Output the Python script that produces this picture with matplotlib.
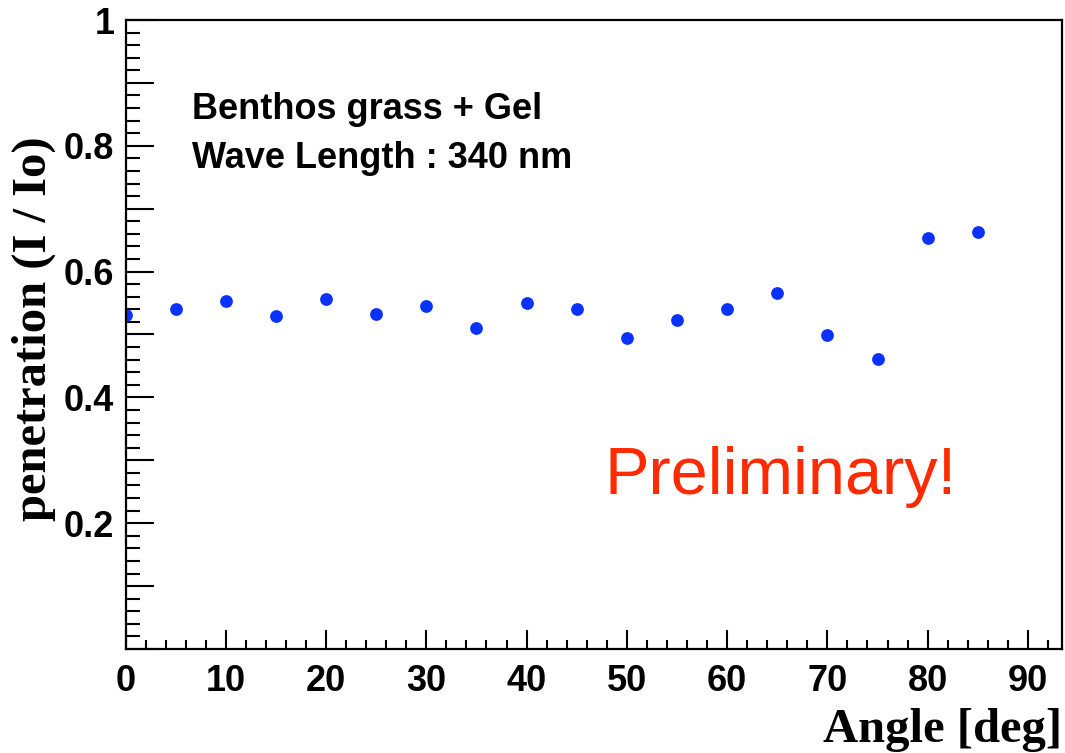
import numpy as np
import matplotlib
matplotlib.use('Agg')
import matplotlib.pyplot as plt
from matplotlib.ticker import MultipleLocator, FuncFormatter

# measured penetration vs incident angle
angles = [0, 5, 10, 15, 20, 25, 30, 35, 40, 45, 50, 55, 60, 65, 70, 75, 80, 85]
penetration = [0.531, 0.541, 0.553, 0.530, 0.556, 0.532, 0.545, 0.511, 0.550,
               0.540, 0.495, 0.523, 0.540, 0.566, 0.500, 0.461, 0.654, 0.663]

sans = 'Liberation Sans'
serif = 'Liberation Serif'

fig = plt.figure(figsize=(10.65, 7.53), dpi=100)
ax = fig.add_axes([125.5 / 1065, 104 / 753, (1062 - 125.5) / 1065, (649 - 20) / 753])

ax.plot(angles, penetration, 'o', color='#0a32ff', markersize=9.2, markeredgewidth=0)

ax.set_xlim(0, 93.4)
ax.set_ylim(0, 1)

# ROOT-like ticks: inward, only on left and bottom
ax.xaxis.set_major_locator(MultipleLocator(10))
ax.xaxis.set_minor_locator(MultipleLocator(2))
ax.yaxis.set_major_locator(MultipleLocator(0.1))
ax.yaxis.set_minor_locator(MultipleLocator(0.02))


def ylab(v, pos):
    k = int(round(v * 10))
    if k == 0 or k % 2:
        return ''
    if k == 10:
        return '1'
    return '%.1f' % v


ax.yaxis.set_major_formatter(FuncFormatter(ylab))
ax.tick_params(axis='x', which='major', direction='in', length=13.5, width=1.5, pad=11)
ax.tick_params(axis='x', which='minor', direction='in', length=6.5, width=1.5)
ax.tick_params(axis='y', which='major', direction='in', length=20, width=1.5, pad=8)
ax.tick_params(axis='y', which='minor', direction='in', length=10, width=1.5)
ax.tick_params(top=False, right=False, which='both')
for lab in ax.get_xticklabels() + ax.get_yticklabels():
    lab.set_fontfamily(sans)
    lab.set_fontweight('bold')
    lab.set_fontsize(26)
for sp in ax.spines.values():
    sp.set_linewidth(1.6)

ax.text(6.63, 0.8425, 'Benthos grass + Gel', fontfamily=sans, fontweight='bold',
        fontsize=26, va='baseline', ha='left')
ax.text(6.63, 0.7645, 'Wave Length : 340 nm', fontfamily=sans, fontweight='bold',
        fontsize=26, va='baseline', ha='left')
ax.text(47.8, 0.246, 'Preliminary!', fontfamily=sans, fontsize=48,
        color='#ff2a00', va='baseline', ha='left')

fig.text(1062 / 1065, (753 - 742) / 753, 'Angle [deg]', fontfamily=serif,
         fontweight='bold', fontsize=35, ha='right', va='baseline')
fig.text(34 / 1065, 1 - 329 / 753, 'penetration (I / Io)', fontfamily=serif,
         fontweight='bold', fontsize=35, ha='center', va='center', rotation=90)

fig.savefig('out.png', dpi=100)
